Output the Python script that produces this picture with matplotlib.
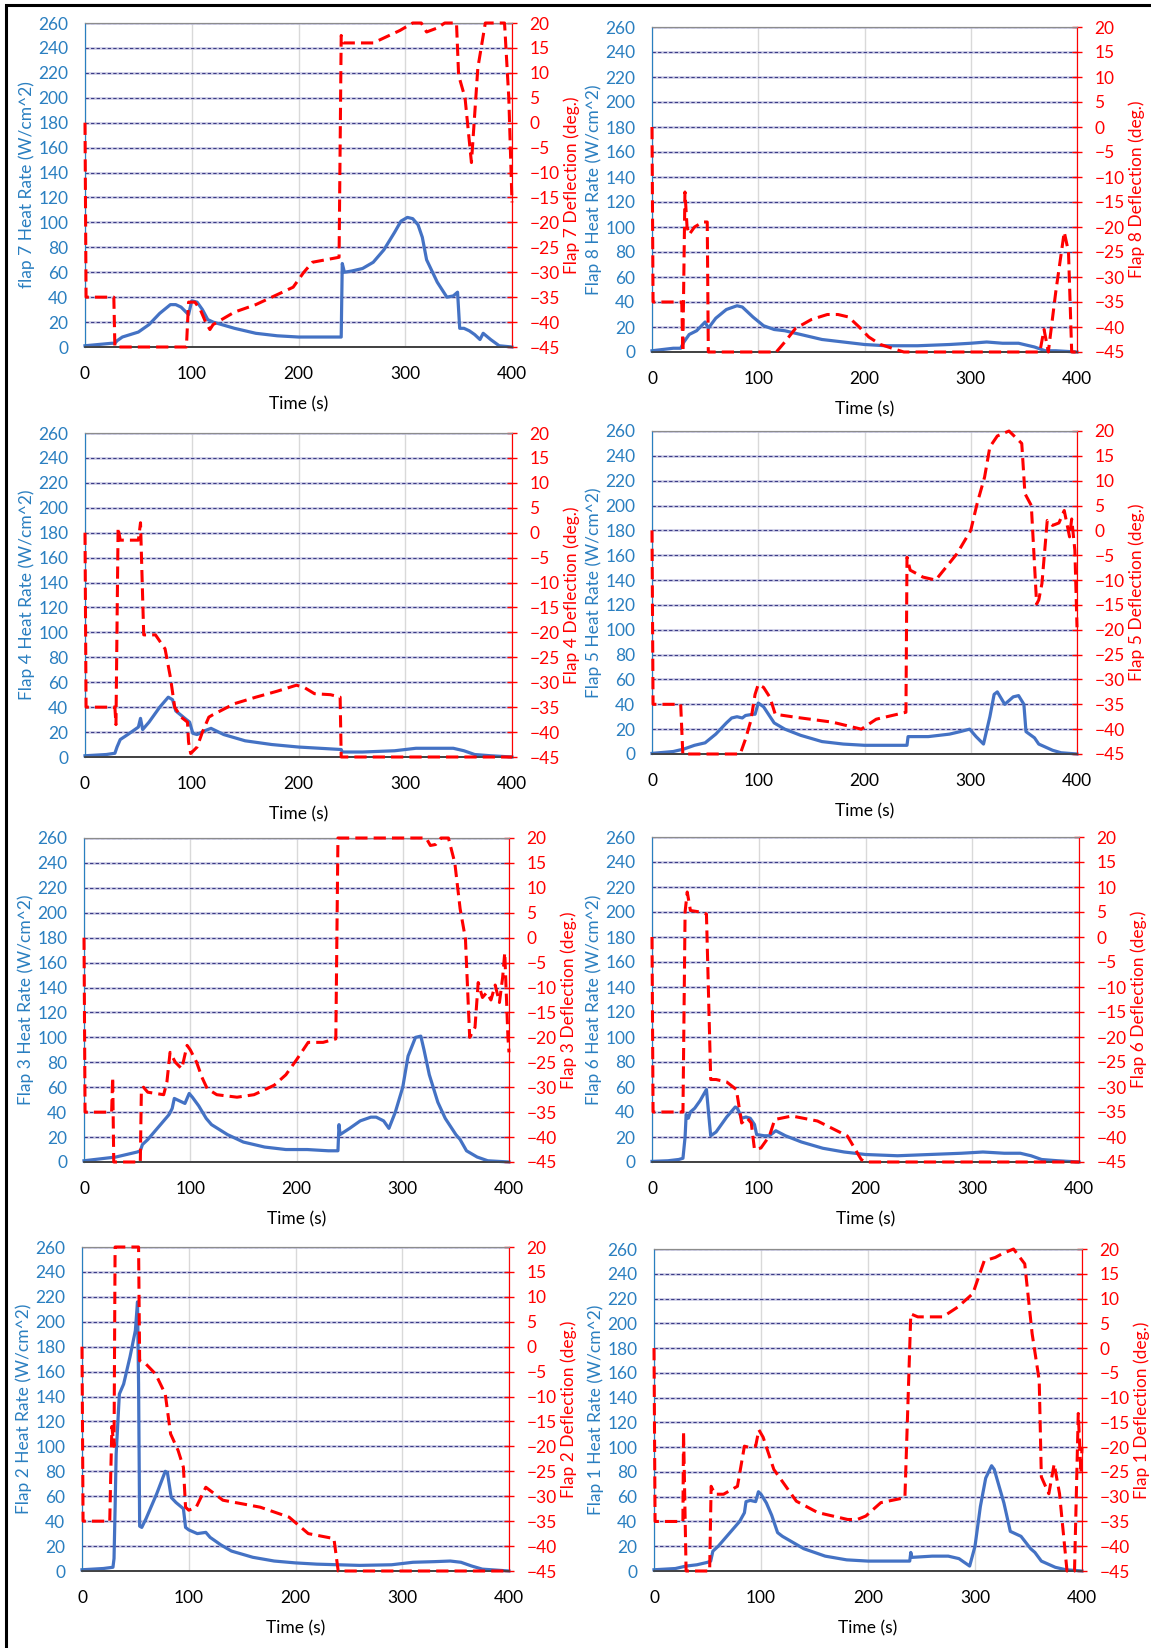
import matplotlib
matplotlib.use("Agg")
import matplotlib.pyplot as plt
from matplotlib.patches import Rectangle

plt.rcParams['font.family'] = ['Lato', 'DejaVu Sans']

# ---- data (time in s, heat rate in W/cm^2, deflection in deg) ----
# Flap 7
t_heat7 = [0, 25, 28, 30, 35, 50, 60, 70, 80, 85, 90, 97, 100, 105, 110, 115, 120, 140, 160, 180, 200, 220, 240,
           241, 243, 250, 260, 270, 280, 290, 296, 302, 307, 312, 316, 320, 330, 339, 345, 349, 351, 355, 360, 365,
           370, 373, 380, 388, 400]
heat7 = [1, 3, 3, 5, 8, 12, 18, 27, 34, 34, 32, 26, 37, 36, 30, 22, 20, 15, 11, 9, 8, 8, 8,
         67, 60, 61, 63, 68, 78, 92, 101, 104, 103, 98, 88, 70, 52, 40, 41, 44, 15, 15, 13, 10,
         6, 11, 6, 1, 0]
t_defl7 = [0, 1, 27, 28, 95, 97, 103, 108, 113, 117, 120, 140, 160, 180, 195, 205, 213, 238, 240, 242, 250, 270,
           280, 295, 307, 315, 320, 330, 337, 348, 350, 356, 362, 368, 375, 393, 397, 400]
defl7 = [0, -35, -35, -45, -45, -36, -36, -37.5, -40, -41.5, -40.5, -38, -36.5, -34.5, -33, -30, -28, -27, 17.5, 16, 16, 16,
         17, 18.5, 20, 20, 18.2, 19, 20, 20, 9.5, 5, -8, 11, 20, 20, 5, -16]

# Flap 8
t_heat8 = [0, 20, 27, 30, 35, 42, 50, 53, 60, 70, 80, 85, 95, 105, 115, 125, 140, 160, 180, 200, 220, 250, 280,
           300, 315, 330, 345, 360, 370, 380, 400]
heat8 = [1, 3, 3, 8, 14, 17, 24, 19, 27, 34, 37, 36, 28, 21, 18, 17, 14, 10, 8, 6, 5, 5, 6,
         7, 8, 7, 7, 4, 1, 1, 0]
t_defl8 = [0, 1, 27, 28, 29, 31, 33, 35, 40, 48, 52, 53, 117, 125, 135, 150, 165, 175, 185, 195, 204, 215, 237,
           365, 369, 373, 380, 388, 392, 395, 400]
defl8 = [0, -35, -35, -35, -45, -13, -20, -21.5, -20, -19, -19, -45, -45, -43, -40.3, -38.5, -37.5, -37.5, -38, -40, -42,
         -43.5, -45, -45, -40.5, -45, -33, -21, -25, -45, -45]

# Flap 4
t_heat4 = [0, 20, 28, 30, 33, 40, 50, 52, 54, 60, 70, 78, 82, 85, 95, 98, 101, 105, 112, 118, 130, 150, 175,
           200, 220, 240, 241, 260, 290, 310, 330, 345, 355, 365, 380, 400]
heat4 = [1, 2, 3, 8, 14, 18, 24, 31, 22, 28, 40, 48, 46, 37, 30, 28, 19, 18, 21, 23, 18, 13, 10,
         8, 7, 6, 4, 4, 5, 7, 7, 7, 5, 2, 1, 0]
t_defl4 = [0, 1, 28, 29, 31, 33, 50, 52, 55, 66, 75, 80, 84, 90, 96, 97, 99, 105, 110, 116, 120, 140, 160, 180,
           198, 205, 215, 230, 239, 240, 400]
defl4 = [0, -35, -35, -38.5, 1, -1.5, -1.5, 2, -20.5, -20.5, -23.3, -29, -35, -37, -38, -42, -44.3, -43, -40, -37,
         -36.5, -34.3, -33, -31.8, -30.6, -31, -32.3, -32.5, -33, -45, -45]

# Flap 5
t_heat5 = [0, 20, 30, 40, 50, 60, 70, 75, 80, 85, 88, 95, 97, 100, 105, 115, 125, 140, 160, 180, 200, 220, 240,
           241, 260, 280, 290, 299, 305, 312, 318, 322, 325, 332, 340, 345, 350, 352, 360, 364, 377, 385, 400]
heat5 = [0.5, 2, 4, 7, 9, 16, 25, 29, 30, 29, 31, 32, 32, 41, 38, 25, 20, 15, 10, 8, 7, 7, 7,
         14, 14, 16, 18, 20, 14, 8, 30, 48, 50, 40, 46, 47, 40, 18, 13, 8, 3, 1, 0]
t_defl5 = [0, 1, 27, 29, 83, 88, 93, 97, 100, 105, 111, 116, 135, 170, 197, 211, 225, 239, 240, 243, 255, 267,
           287, 300, 306, 313, 318, 325, 336, 348, 351, 357, 362, 364, 367, 372, 377, 383, 388, 393, 395, 398, 400]
defl5 = [0, -35, -35, -45, -45, -42, -38.3, -33, -31, -31.6, -33.6, -37, -37.6, -38.6, -40, -38, -37.3, -36.6, -5.4,
         -8, -9.4, -10, -4.7, 0, 5.4, 10.7, 16.8, 19, 20, 17.5, 7.4, 5, -14.8, -14, -10.7, 2, 1, 1.5, 4, -1.3,
         2.3, -4, -19.5]

# Flap 3
t_heat3 = [0, 20, 30, 40, 50, 53, 55, 60, 70, 80, 83, 85, 90, 95, 99, 102, 108, 115, 120, 135, 150, 170, 190,
           210, 230, 239, 240, 241, 250, 260, 270, 275, 282, 287, 293, 300, 305, 312, 317, 320, 325, 333, 340, 350,
           354, 360, 370, 380, 400]
heat3 = [1, 3, 4, 6, 8, 9, 14, 18, 28, 38, 43, 51, 49, 47, 55, 52, 45, 35, 30, 22, 16, 12, 10,
         10, 9, 9, 30, 22, 27, 33, 36, 36, 33, 27, 40, 60, 85, 100, 101, 90, 70, 48, 35, 22,
         18, 9, 4, 1, 0]
t_defl3 = [0, 1, 26, 27, 28, 53, 54, 56, 60, 75, 78, 81, 86, 92, 97, 100, 106, 111, 116, 125, 144, 160, 179, 190,
           200, 211, 225, 237, 239, 322, 326, 331, 336, 343, 349, 354, 359, 363, 368, 371, 375, 379, 383, 387,
           391, 394, 396, 399, 400]
defl3 = [0, -35, -35, -28, -45, -45, -30.5, -30, -31, -31.5, -29, -23, -25, -26.3, -21.6, -22.5, -25, -28, -30.3,
         -31.5, -32, -31.5, -29.6, -27.5, -24.5, -21, -21, -20.3, 20, 20, 18.5, 18.7, 20, 20, 15, 5.8, -0.2, -20,
         -18, -9, -12, -11, -12.5, -9.5, -13, -8, -3, -20, -23]

# Flap 6
t_heat6 = [0, 15, 25, 29, 31, 32, 34, 36, 40, 45, 51, 54, 55, 60, 70, 78, 80, 84, 88, 92, 96, 98, 105, 110, 116,
           125, 140, 160, 180, 200, 230, 260, 290, 310, 330, 345, 355, 365, 380, 400]
heat6 = [0.5, 1, 2, 3, 20, 38, 35, 40, 43, 49, 58, 30, 21, 24, 36, 44, 43, 35, 36, 35, 30, 22, 21, 21, 25,
         21, 16, 11, 8, 6, 5, 6, 7, 8, 7, 7, 5, 2, 1, 0]
t_defl6 = [0, 1, 27, 29, 31, 33, 36, 45, 51, 55, 60, 70, 79, 84, 89, 93, 96, 102, 110, 115, 131, 155, 183, 196,
           200, 400]
defl6 = [0, -35, -35, -35, 5, 9, 5.3, 5, 4.6, -28.5, -28.5, -29, -30.5, -37.2, -36.2, -37.2, -42.5, -42.2, -39.8,
         -36.5, -35.8, -36.8, -39.8, -44.5, -45, -45]

# Flap 2
t_heat2 = [0, 20, 29, 30, 31, 32, 35, 39, 45, 50, 52, 53, 54, 56, 60, 70, 78, 80, 83.6, 88, 95, 97, 100, 108, 116,
           120, 130, 140, 160, 180, 200, 220, 240, 260, 290, 310, 330, 345, 355, 365, 375, 400]
heat2 = [1, 2, 3, 10, 50, 94, 142, 150, 172, 193, 216, 150, 36, 35, 42, 62, 80, 79, 59, 55, 50, 35, 33, 30, 31,
         27, 21, 16, 11, 8, 6.5, 5.5, 5, 4.5, 5, 7, 7.5, 8, 7, 4, 1.5, 0]
t_defl2 = [0, 1, 26, 27, 28, 30, 31, 53, 54, 60, 69, 78, 83, 90, 95, 97, 100, 107, 116, 132, 167, 194, 212, 236,
           240, 400]
defl2 = [0, -35, -35, -25, -16, -20, 20, 20, -2.8, -3.5, -5.5, -9.5, -17.5, -20.8, -24.2, -32.2, -32.8, -32.2, -28.2,
         -30.8, -32.2, -34.2, -37.5, -38.5, -45, -45]

# Flap 1
t_heat1 = [0, 20, 30, 40, 50, 53, 55, 60, 70, 80, 84.5, 86, 90, 95, 97.6, 100, 105, 110, 115.5, 120, 130, 140,
           160, 180, 200, 220, 239, 240, 241, 260, 275, 285, 295, 300, 305, 310, 315.5, 318, 322, 327, 333, 343,
           352, 356, 362, 375, 385, 400]
heat1 = [1, 2, 4, 5, 7, 8, 16, 20, 30, 40, 47, 56, 57, 56, 64, 62, 55, 45, 31, 28, 23, 18,
         12, 9, 8, 8, 8, 15, 11, 12, 12, 10, 4, 20, 52, 75, 85, 82, 70, 55, 32, 28,
         18, 15, 8, 3, 1, 0]
t_defl1 = [0, 1, 27, 27.6, 30, 52, 53.4, 57, 65, 78, 84.5, 88, 95, 98, 102, 112, 133, 153, 181, 190, 198, 212, 234.5,
           240, 246.5, 270, 284, 298, 308.6, 319, 325, 336, 346.5, 353.4, 360, 362, 369, 374, 379, 386, 393, 396.5,
           399, 400]
defl1 = [0, -35, -35, -16.8, -45, -45, -27.9, -29.5, -29.5, -27.9, -19.8, -20, -19.8, -16.5, -18, -24.5, -30.9,
         -33.2, -34.6, -34.6, -33.9, -31.2, -30.2, 6.9, 6.3, 6.3, 8.3, 11, 17.6, 18.3, 19, 20, 17, 2.9, -6.5,
         -26, -29.4, -23.4, -29.4, -45, -45, -13.2, -25.3, -20]

FLAPS = [
    # (heat label, deflection label, heat series, deflection series)
    ("flap 7 Heat Rate (W/cm^2)", "Flap 7 Deflection (deg.)", t_heat7, heat7, t_defl7, defl7),
    ("Flap 8 Heat Rate (W/cm^2)", "Flap 8 Deflection (deg.)", t_heat8, heat8, t_defl8, defl8),
    ("Flap 4 Heat Rate (W/cm^2)", "Flap 4 Deflection (deg.)", t_heat4, heat4, t_defl4, defl4),
    ("Flap 5 Heat Rate (W/cm^2)", "Flap 5 Deflection (deg.)", t_heat5, heat5, t_defl5, defl5),
    ("Flap 3 Heat Rate (W/cm^2)", "Flap 3 Deflection (deg.)", t_heat3, heat3, t_defl3, defl3),
    ("Flap 6 Heat Rate (W/cm^2)", "Flap 6 Deflection (deg.)", t_heat6, heat6, t_defl6, defl6),
    ("Flap 2 Heat Rate (W/cm^2)", "Flap 2 Deflection (deg.)", t_heat2, heat2, t_defl2, defl2),
    ("Flap 1 Heat Rate (W/cm^2)", "Flap 1 Deflection (deg.)", t_heat1, heat1, t_defl1, defl1),
]

# plot-area boxes in pixels: (left, top, right, bottom) of the 1151 x 1648 picture
BOXES = [
    (85, 23, 512, 347), (652, 27, 1077, 352),
    (85, 433, 512, 757), (652, 431, 1077, 754),
    (84, 838, 509, 1162), (652, 837, 1079, 1162),
    (82, 1247, 509, 1571), (654, 1249, 1082, 1571),
]

W, H = 1151, 1648
BLUE = '#4472c4'
BLUE_TXT = '#2a7fc0'
RED = '#ff0000'
FS = 12.5

fig = plt.figure(figsize=(W / 100, H / 100), dpi=100)
fig.add_artist(Rectangle((6 / W, -0.01), 1.2, 0.997 + 0.01, transform=fig.transFigure,
                         fill=False, edgecolor='black', linewidth=2.2))

for (hlabel, dlabel, th, hv, td, dv), (l, t, r, b) in zip(FLAPS, BOXES):
    ax = fig.add_axes([l / W, 1 - b / H, (r - l) / W, (b - t) / H])
    ax2 = ax.twinx()

    ax.plot(th, hv, color=BLUE, lw=2.3, solid_joinstyle='round', clip_on=False, zorder=3)
    ax2.plot(td, dv, color=RED, lw=2.2, dashes=(4, 2), clip_on=False, zorder=3)

    ax.set_xlim(0, 400)
    ax.set_ylim(0, 260)
    ax2.set_ylim(-45, 20)
    ax.set_xticks(range(0, 401, 100))
    ax.set_yticks(range(0, 261, 20))
    ax2.set_yticks(range(-45, 21, 5))

    # horizontal grid: light band with a navy dash over it, plus pale vertical lines
    ax.set_yticks(range(0, 261, 20), minor=True)
    ax.yaxis.remove_overlapping_locs = False
    ax.grid(axis='y', which='major', color='#c9c9e4', lw=1.8)
    ax.grid(axis='y', which='minor', color='#3b3b86', lw=0.8, ls=(0, (3, 2)))
    ax.grid(axis='x', which='major', color='#d9d9d9', lw=1.0)
    ax.tick_params(axis='y', which='minor', length=0)

    ax.tick_params(axis='x', length=0, pad=14, labelsize=FS, colors='black')
    ax.tick_params(axis='y', length=0, pad=12, labelsize=FS, labelcolor=BLUE_TXT)
    ax2.tick_params(axis='y', direction='inout', length=7, width=1, color=RED, pad=9,
                    labelsize=FS, labelcolor=RED)

    ax.set_xlabel('Time (s)', fontsize=FS, labelpad=10)
    ax.set_ylabel(hlabel, fontsize=FS, color=BLUE_TXT, labelpad=2)
    ax2.set_ylabel(dlabel, fontsize=FS, color=RED, labelpad=3)

    for a in (ax, ax2):
        a.spines['top'].set_color('#8c8c8c')
        a.spines['bottom'].set_color('#404040')
        a.spines['left'].set_color(BLUE_TXT)
        a.spines['right'].set_color(RED)
        a.spines['bottom'].set_linewidth(1.2)

fig.savefig('out.png', dpi=100)
